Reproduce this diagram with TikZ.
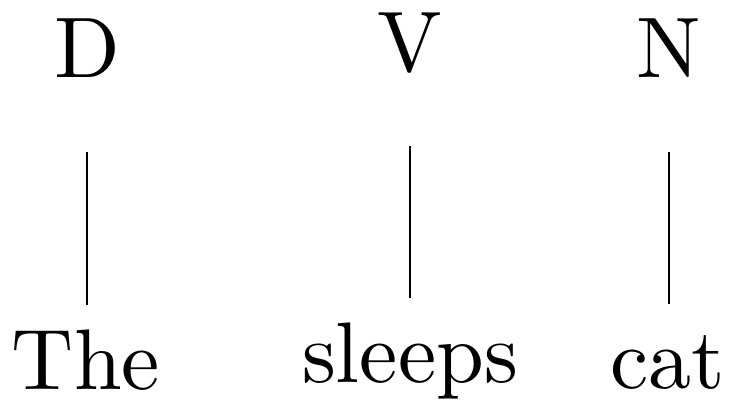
\documentclass[tikz,border=0pt]{standalone}
\usepackage{fontspec}
\setmainfont{lmroman10-regular}[Extension=.otf]
\begin{document}
\begin{tikzpicture}[x=1pt,y=-1pt,
  tag/.style={inner sep=0pt,anchor=base,font=\fontsize{86}{90}\selectfont},
  word/.style={inner sep=0pt,anchor=base,font=\fontsize{86}{90}\selectfont},
  link/.style={line width=1.3pt,shorten <=75pt,shorten >=84pt}]
\useasboundingbox (0,0) rectangle (736,399);
\node[tag] (D) at (87,77) {D};
\node[tag] (V) at (410,71) {V};
\node[tag] (N) at (669,77) {N};
\node[word] (The) at (86,389) {The};
\node[word] (sleeps) at (410,382) {sleeps};
\node[word] (cat) at (668,388) {cat};
\draw[link] (D.base) -- (D.base |- The.base);
\draw[link] (V.base) -- (V.base |- sleeps.base);
\draw[link] (N.base) -- (N.base |- cat.base);
\end{tikzpicture}
\end{document}
